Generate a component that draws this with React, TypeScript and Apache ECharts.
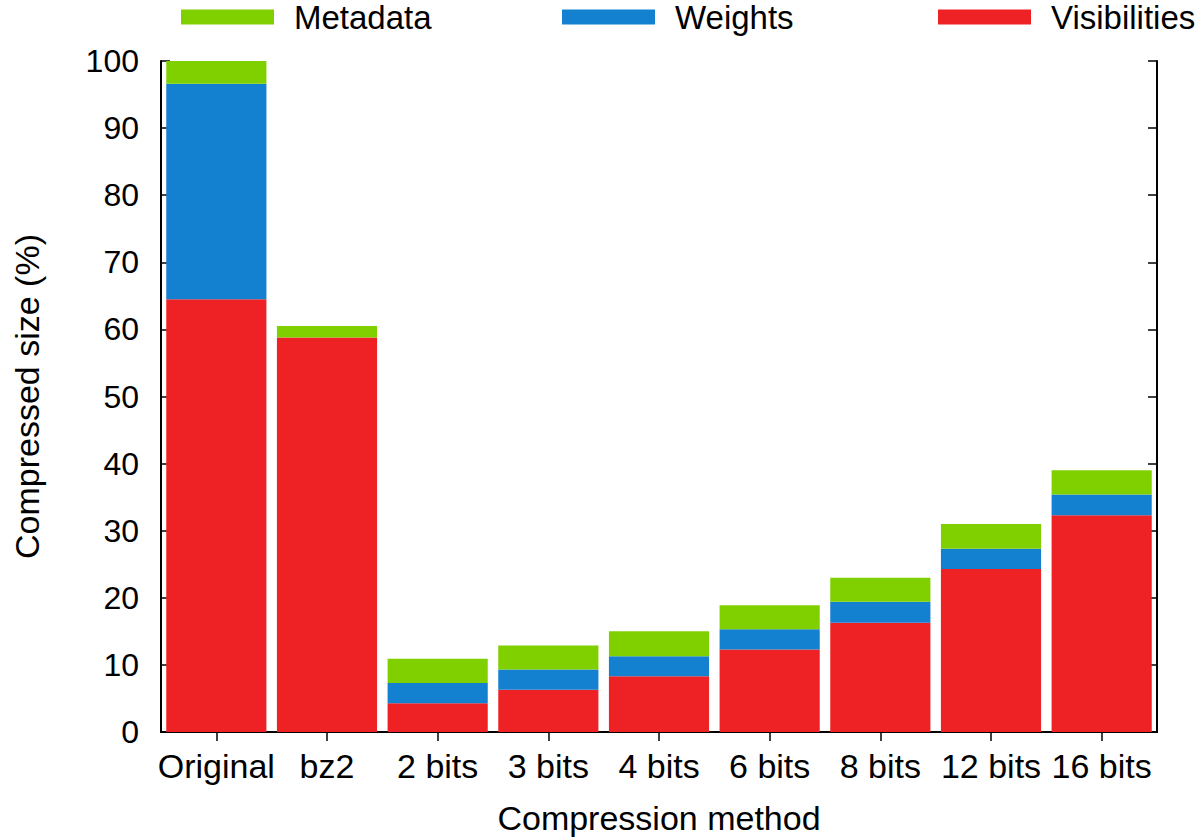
import { useEffect, useRef } from 'react';
import * as echarts from 'echarts';

const categories = ['Original', 'bz2', '2 bits', '3 bits', '4 bits', '6 bits', '8 bits', '12 bits', '16 bits'];
const visibilities = [64.5, 58.8, 4.3, 6.3, 8.3, 12.3, 16.3, 24.3, 32.3];
const weights = [32.1, 0, 3.0, 3.0, 3.0, 3.0, 3.1, 3.0, 3.1];
const metadata = [3.4, 1.7, 3.6, 3.6, 3.7, 3.6, 3.6, 3.7, 3.6];

const COLORS = {
  metadata: '#80d000',
  weights: '#1380d0',
  visibilities: '#ee2224',
};

const FONT = 'Liberation Sans, Arial, sans-serif';

export default function App() {
  const chartRef = useRef<HTMLDivElement>(null);

  useEffect(() => {
    if (!chartRef.current) return;
    const chart = echarts.init(chartRef.current, undefined, { renderer: 'svg' });

    const axisLine = { show: true, lineStyle: { color: '#000', width: 2 } };
    const tick = { show: true, inside: true, length: 9, lineStyle: { color: '#000', width: 1.5 } };

    const legendBase = {
      top: 0,
      padding: 0,
      itemWidth: 93,
      itemHeight: 15,
      icon: 'rect',
      selectedMode: false,
      textStyle: {
        fontSize: 33,
        lineHeight: 34,
        color: '#000',
        fontFamily: FONT,
        padding: [0, 0, 0, 15],
      },
    };

    const option: echarts.EChartsOption = {
      animation: false,
      textStyle: { fontFamily: FONT },
      legend: [
        { ...legendBase, left: 181, data: ['Metadata'] },
        { ...legendBase, left: 562, data: ['Weights'] },
        { ...legendBase, left: 938, data: ['Visibilities'] },
      ],
      grid: { left: 161, right: 43, top: 61, bottom: 106, containLabel: false },
      xAxis: [
        {
          type: 'category',
          position: 'bottom',
          data: categories,
          axisLine,
          axisTick: { ...tick, alignWithLabel: true },
          axisLabel: { fontSize: 34, color: '#000', margin: 17, interval: 0, fontFamily: FONT },
          name: 'Compression method',
          nameLocation: 'middle',
          nameGap: 69,
          nameTextStyle: { fontSize: 34, color: '#000', fontFamily: FONT },
        },
        {
          type: 'category',
          position: 'top',
          data: categories,
          axisLine,
          axisTick: { ...tick, alignWithLabel: true },
          axisLabel: { show: false },
        },
      ],
      yAxis: [
        {
          type: 'value',
          position: 'left',
          min: 0,
          max: 100,
          interval: 10,
          axisLine,
          axisTick: tick,
          splitLine: { show: false },
          axisLabel: { fontSize: 32, color: '#000', margin: 22, fontFamily: FONT },
          name: 'Compressed size (%)',
          nameLocation: 'middle',
          nameGap: 117,
          nameTextStyle: { fontSize: 34, color: '#000', fontFamily: FONT },
        },
        {
          type: 'value',
          position: 'right',
          min: 0,
          max: 100,
          interval: 10,
          axisLine,
          axisTick: tick,
          splitLine: { show: false },
          axisLabel: { show: false },
        },
      ],
      series: [
        {
          name: 'Visibilities',
          type: 'bar',
          stack: 'size',
          barCategoryGap: '9.5%',
          data: visibilities,
          itemStyle: { color: COLORS.visibilities },
        },
        {
          name: 'Weights',
          type: 'bar',
          stack: 'size',
          data: weights,
          itemStyle: { color: COLORS.weights },
        },
        {
          name: 'Metadata',
          type: 'bar',
          stack: 'size',
          data: metadata,
          itemStyle: { color: COLORS.metadata },
        },
      ],
    };

    chart.setOption(option);
    return () => {
      chart.dispose();
    };
  }, []);

  return (
    <div
      ref={chartRef}
      style={{ position: 'absolute', left: 0, top: 0, width: 1200, height: 840, background: '#fff' }}
    />
  );
}
